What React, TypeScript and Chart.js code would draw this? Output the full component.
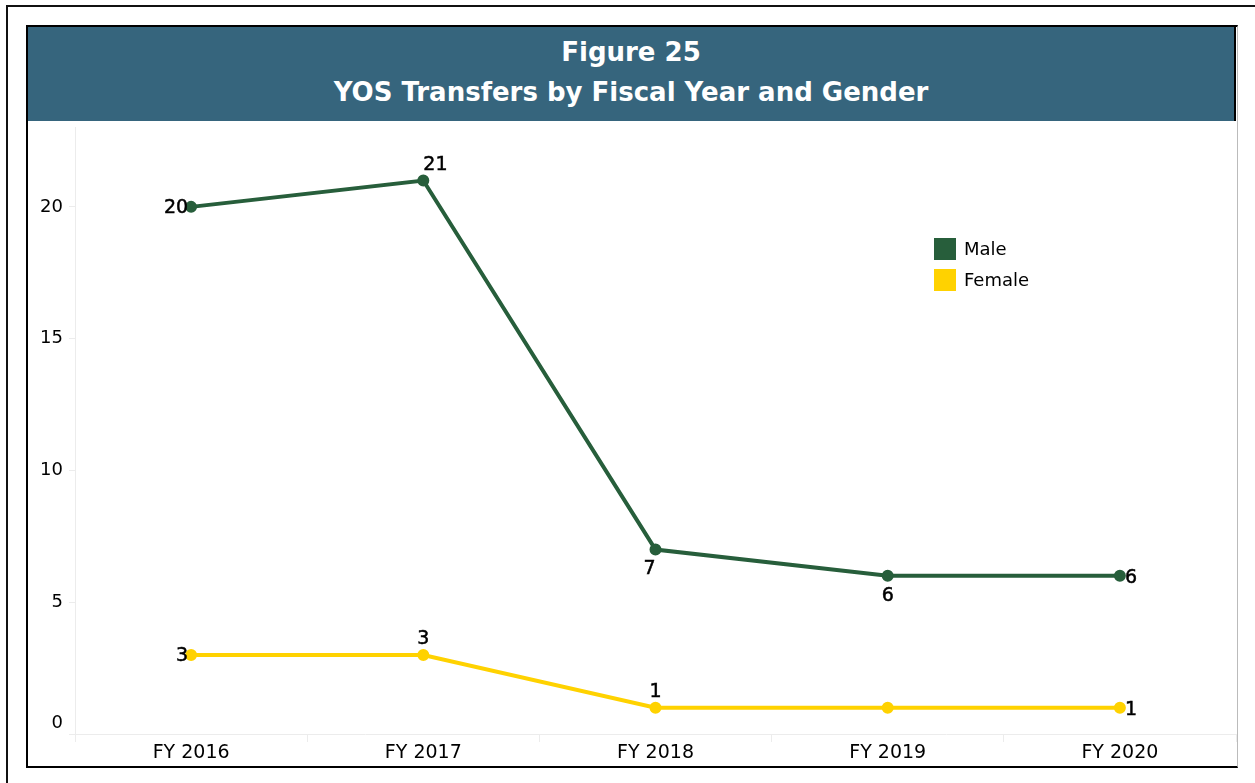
import React, { useEffect, useRef } from "react";
import { Chart, registerables } from "chart.js";

Chart.register(...registerables);

const categories = ["FY 2016", "FY 2017", "FY 2018", "FY 2019", "FY 2020"];
const maleValues = [20, 21, 7, 6, 6];
const femaleValues = [3, 3, 1, 1, 1];
const maleLabelPos = ["left", "topRight", "bottomLeft", "bottom", "right"];
const femaleLabelPos = ["left", "top", "top", "", "right"];
const yTicks = [0, 5, 10, 15, 20];

const MALE_COLOR = "#275E3B";
const FEMALE_COLOR = "#FFD200";
const FONT = "'DejaVu Sans', sans-serif";

const labelPlugin = {
  id: "pointLabels",
  afterDatasetsDraw(chart: any) {
    const ctx = chart.ctx;
    ctx.save();
    ctx.fillStyle = "#000";
    ctx.strokeStyle = "#000";
    ctx.lineWidth = 0.5;
    ctx.font = `19px ${FONT}`;
    chart.data.datasets.forEach((ds: any, di: number) => {
      const meta = chart.getDatasetMeta(di);
      const positions: string[] = ds.labelPos || [];
      meta.data.forEach((pt: any, i: number) => {
        const pos = positions[i];
        if (!pos) return;
        const text = String(ds.data[i]);
        let x = pt.x;
        let y = pt.y;
        if (pos === "left") {
          ctx.textAlign = "right";
          ctx.textBaseline = "middle";
          x -= 3;
          y += 1;
        } else if (pos === "right") {
          ctx.textAlign = "left";
          ctx.textBaseline = "middle";
          x += 5;
          y += 2;
        } else if (pos === "top") {
          ctx.textAlign = "center";
          ctx.textBaseline = "bottom";
          y -= 6;
        } else if (pos === "topRight") {
          ctx.textAlign = "left";
          ctx.textBaseline = "bottom";
          y -= 6;
        } else if (pos === "bottomLeft") {
          ctx.textAlign = "center";
          ctx.textBaseline = "top";
          x -= 6;
          y += 10;
        } else if (pos === "bottom") {
          ctx.textAlign = "center";
          ctx.textBaseline = "top";
          y += 11;
        }
        ctx.fillText(text, x, y);
        ctx.strokeText(text, x, y);
      });
    });
    ctx.restore();
  },
};

function LineChart() {
  const canvasRef = useRef<HTMLCanvasElement | null>(null);
  useEffect(() => {
    if (!canvasRef.current) return;
    const chart = new Chart(canvasRef.current, {
      type: "line",
      data: {
        labels: categories,
        datasets: [
          {
            label: "Male",
            data: maleValues,
            borderColor: MALE_COLOR,
            backgroundColor: MALE_COLOR,
            borderWidth: 4,
            pointRadius: 4,
            pointHoverRadius: 4,
            tension: 0,
            labelPos: maleLabelPos,
          } as any,
          {
            label: "Female",
            data: femaleValues,
            borderColor: FEMALE_COLOR,
            backgroundColor: FEMALE_COLOR,
            borderWidth: 4,
            pointRadius: 4,
            pointHoverRadius: 4,
            tension: 0,
            labelPos: femaleLabelPos,
          } as any,
        ],
      },
      options: {
        animation: false,
        responsive: false,
        maintainAspectRatio: false,
        layout: { padding: { top: 0, right: 0, left: 0, bottom: 0 } },
        plugins: {
          legend: { display: false },
          tooltip: { enabled: false },
          title: { display: false },
        },
        scales: {
          x: {
            type: "category",
            offset: true,
            grid: {
              offset: true,
              drawOnChartArea: false,
              drawTicks: true,
              tickLength: 8,
              color: "#ececec",
            },
            border: { display: true, color: "#ececec", width: 1 },
            ticks: {
              color: "#000",
              font: { family: FONT, size: 19 },
              padding: 0,
              maxRotation: 0,
            },
            afterFit(scale: any) {
              scale.height = 32;
            },
          },
          y: {
            min: 0,
            max: 23,
            afterBuildTicks(scale: any) {
              scale.ticks = yTicks.map((v) => ({ value: v }));
            },
            grid: {
              drawOnChartArea: false,
              drawTicks: true,
              tickLength: 6,
              color: "#ececec",
            },
            border: { display: true, color: "#ececec", width: 1 },
            ticks: {
              color: "#000",
              font: { family: FONT, size: 18 },
              padding: 6,
              callback: (value: any) => (value === 0 ? ["0", ""] : String(value)),
            },
            afterFit(scale: any) {
              scale.width = 47;
            },
          },
        },
      },
      plugins: [labelPlugin],
    } as any);
    return () => chart.destroy();
  }, []);
  return (
    <canvas
      ref={canvasRef}
      width={1216}
      height={655}
      style={{ position: "absolute", left: 28, top: 111, width: 1216, height: 655 }}
    />
  );
}

export default function App() {
  return (
    <div
      style={{
        position: "absolute",
        left: 0,
        top: 0,
        width: 1255,
        height: 783,
        background: "#fff",
        overflow: "hidden",
        fontFamily: FONT,
      }}
    >
      <div
        style={{
          position: "absolute",
          left: 6,
          top: 5,
          width: 1300,
          height: 900,
          borderLeft: "2px solid #111",
          borderTop: "2px solid #111",
        }}
      />
      <div
        style={{
          position: "absolute",
          left: 26,
          top: 25,
          width: 1212,
          height: 743,
          border: "2px solid #000",
          borderRight: "1px solid #bbb",
          boxSizing: "border-box",
        }}
      />
      <LineChart />
      <div
        style={{
          position: "absolute",
          left: 28,
          top: 27,
          width: 1208,
          height: 94,
          background: "#36657D",
          borderRight: "2px solid #000",
          boxSizing: "border-box",
          color: "#fff",
          display: "flex",
          flexDirection: "column",
          alignItems: "center",
          justifyContent: "center",
          fontSize: 26,
          fontWeight: "bold",
          lineHeight: "40px",
          paddingBottom: 4,
          zIndex: 2,
        }}
      >
        <div>Figure 25</div>
        <div>YOS Transfers by Fiscal Year and Gender</div>
      </div>
      <div
        style={{
          position: "absolute",
          left: 934,
          top: 238,
          fontSize: 18,
          color: "#000",
          zIndex: 2,
        }}
      >
        {[
          { name: "Male", color: MALE_COLOR },
          { name: "Female", color: FEMALE_COLOR },
        ].map((item) => (
          <div
            key={item.name}
            style={{ display: "flex", alignItems: "center", height: 22, marginBottom: 9 }}
          >
            <div style={{ width: 22, height: 22, background: item.color, marginRight: 8 }} />
            <span style={{ lineHeight: "22px" }}>{item.name}</span>
          </div>
        ))}
      </div>
    </div>
  );
}
